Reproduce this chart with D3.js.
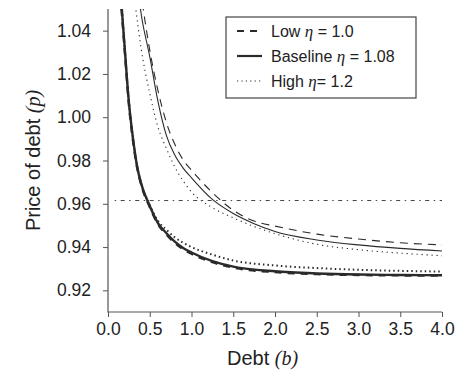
<!DOCTYPE html>
<html>
<head>
<meta charset="utf-8">
<script src="https://cdn.jsdelivr.net/npm/d3@7"></script>
<style>
  html, body { margin: 0; padding: 0; background: #fff; }
  svg { display: block; font-family: "Liberation Sans", Arial, sans-serif; }
  .math { font-family: "Liberation Serif", "DejaVu Serif", serif; font-style: italic; }
</style>
</head>
<body>
<svg id="chart"></svg>
<script>
/* ── data ──────────────────────────────────────────────────────── */

// thick curves (lower group)
const lowerB         = [0.15, 0.2, 0.25, 0.3, 0.35, 0.4, 0.5, 0.6, 0.7, 0.8, 0.9, 1.0, 1.25, 1.5, 2.0, 2.5, 3.0, 3.5, 4.0];
const lowerBaseline  = [1.058, 1.032, 1.007, 0.990, 0.977, 0.969, 0.959, 0.951, 0.9464, 0.9425, 0.9396, 0.9375, 0.9335, 0.931, 0.9288, 0.9278, 0.9273, 0.9271, 0.927];
const lowerLow       = [1.056, 1.031, 1.006, 0.989, 0.9765, 0.9685, 0.9585, 0.9505, 0.9458, 0.9419, 0.939, 0.9369, 0.933, 0.9305, 0.9284, 0.9275, 0.9271, 0.9269, 0.9268];
const lowerHigh      = [1.058, 1.032, 1.007, 0.990, 0.977, 0.969, 0.9595, 0.952, 0.948, 0.9445, 0.942, 0.940, 0.9365, 0.9338, 0.9315, 0.9303, 0.9295, 0.929, 0.9287];

// thin curves (upper group)
const upperBaseB     = [0.37, 0.4, 0.5, 0.6, 0.7, 0.8, 0.9, 1.0, 1.25, 1.5, 1.75, 2.0, 2.5, 3.0, 3.5, 4.0];
const upperBaseline  = [1.055, 1.047, 1.028, 1.007, 0.9915, 0.9825, 0.9765, 0.972, 0.962, 0.9555, 0.9508, 0.9472, 0.9433, 0.941, 0.9394, 0.9382];
const upperLowB      = [0.41, 0.5, 0.6, 0.7, 0.8, 0.9, 1.0, 1.25, 1.5, 1.75, 2.0, 2.5, 3.0, 3.5, 4.0];
const upperLow       = [1.053, 1.031, 1.012, 0.9975, 0.9875, 0.9803, 0.9755, 0.9652, 0.957, 0.952, 0.9497, 0.946, 0.9437, 0.942, 0.941];
const upperHighB     = [0.32, 0.4, 0.5, 0.6, 0.7, 0.8, 0.9, 1.0, 1.25, 1.5, 1.75, 2.0, 2.5, 3.0, 3.5, 4.0];
const upperHigh      = [1.054, 1.031, 1.011, 0.9953, 0.9855, 0.977, 0.9705, 0.9655, 0.9582, 0.9535, 0.9495, 0.9462, 0.9413, 0.9388, 0.9372, 0.936];

const refPrice  = 0.9615;          // horizontal dot-dash line
const xTicks    = [0, 0.5, 1, 1.5, 2, 2.5, 3, 3.5, 4];
const yTicks    = [0.92, 0.94, 0.96, 0.98, 1.00, 1.02, 1.04];

const legendItems = [
  { label: "Low ",      eq: " = 1.0",  dash: "7,6",     width: 2 },
  { label: "Baseline ", eq: " = 1.08", dash: null,      width: 2.2 },
  { label: "High ",     eq: "= 1.2",   dash: "1.2,3.2", width: 1 },
];

/* ── layout ────────────────────────────────────────────────────── */
const W = 470, H = 389;
const M = { top: 9, right: 28, bottom: 77, left: 108 };
const INK = "#2a2a2a", AXIS = "#555";

const svg = d3.select("#chart").attr("width", W).attr("height", H);

const x = d3.scaleLinear().domain([0, 4]).range([M.left, W - M.right]);
const y = d3.scaleLinear().domain([0.91, 1.05]).range([H - M.bottom, M.top]);

svg.append("defs").append("clipPath").attr("id", "plotClip")
  .append("rect")
    .attr("x", x(0)).attr("y", y(1.05))
    .attr("width", x(4) - x(0)).attr("height", y(0.91) - y(1.05));

/* ── axes ──────────────────────────────────────────────────────── */
const xAxis = svg.append("g")
  .attr("transform", `translate(0,${y(0.91)})`)
  .call(d3.axisBottom(x).tickValues(xTicks).tickFormat(d3.format(".1f")).tickSize(5).tickPadding(6));

const yAxis = svg.append("g")
  .attr("transform", `translate(${x(0)},0)`)
  .call(d3.axisLeft(y).tickValues(yTicks).tickFormat(d3.format(".2f")).tickSize(5).tickPadding(12));

[xAxis, yAxis].forEach(ax => {
  ax.select(".domain").remove();
  ax.selectAll(".tick line").attr("stroke", AXIS);
  ax.selectAll(".tick text")
    .attr("fill", "#222")
    .attr("font-size", 17.5)
    .attr("font-family", "'Liberation Sans', Arial, sans-serif");
});

// L-shaped frame
svg.append("path")
  .attr("d", `M${x(0)},${y(1.05)}V${y(0.91)}H${x(4)}`)
  .attr("fill", "none")
  .attr("stroke", AXIS)
  .attr("stroke-width", 1.2);

// axis titles
const xTitle = svg.append("text")
  .attr("x", 227).attr("y", 365)
  .attr("font-size", 20).attr("fill", "#222");
xTitle.append("tspan").text("Debt ");
xTitle.append("tspan").attr("class", "math").attr("font-style", "normal").text("(");
xTitle.append("tspan").attr("class", "math").text("b");
xTitle.append("tspan").attr("class", "math").attr("font-style", "normal").text(")");

const yTitle = svg.append("text")
  .attr("transform", `translate(40,${(y(0.91) + y(1.05)) / 2}) rotate(-90)`)
  .attr("text-anchor", "middle")
  .attr("font-size", 20).attr("fill", "#222");
yTitle.append("tspan").text("Price of debt ");
yTitle.append("tspan").attr("class", "math").attr("font-style", "normal").text("(");
yTitle.append("tspan").attr("class", "math").text("p");
yTitle.append("tspan").attr("class", "math").attr("font-style", "normal").text(")");

/* ── curves ────────────────────────────────────────────────────── */
const plot = svg.append("g").attr("clip-path", "url(#plotClip)");

// reference line
plot.append("line")
  .attr("x1", x(0.08)).attr("x2", x(4))
  .attr("y1", y(refPrice)).attr("y2", y(refPrice))
  .attr("stroke", "#444")
  .attr("stroke-width", 1)
  .attr("stroke-dasharray", "1.5,4.5,4,4.5");

const line = d3.line()
  .x(d => x(d[0]))
  .y(d => y(d[1]))
  .curve(d3.curveMonotoneX);

const zip = (bs, ps) => bs.map((b, i) => [b, ps[i]]);

const series = [
  { pts: zip(upperLowB,  upperLow),      dash: "8,6",     width: 1.1 },
  { pts: zip(upperBaseB, upperBaseline), dash: null,      width: 1.1 },
  { pts: zip(upperHighB, upperHigh),     dash: "1.2,3.8", width: 1.1 },
  { pts: zip(lowerB,     lowerHigh),     dash: "1.5,3",   width: 2 },
  { pts: zip(lowerB,     lowerLow),      dash: "7,6",     width: 2.4 },
  { pts: zip(lowerB,     lowerBaseline), dash: null,      width: 2.4 },
];

plot.selectAll("path.curve")
  .data(series)
  .join("path")
    .attr("class", "curve")
    .attr("d", d => line(d.pts))
    .attr("fill", "none")
    .attr("stroke", INK)
    .attr("stroke-width", d => d.width)
    .attr("stroke-dasharray", d => d.dash);

/* ── legend ────────────────────────────────────────────────────── */
const lg = svg.append("g");
lg.append("rect")
  .attr("x", 226).attr("y", 17)
  .attr("width", 190).attr("height", 81)
  .attr("fill", "#fff")
  .attr("stroke", "#444")
  .attr("stroke-width", 1.2);

const rows = lg.selectAll("g.row")
  .data(legendItems)
  .join("g")
    .attr("class", "row")
    .attr("transform", (d, i) => `translate(0,${31 + i * 25})`);

rows.append("line")
  .attr("x1", 237).attr("x2", 262)
  .attr("stroke", INK)
  .attr("stroke-width", d => d.width)
  .attr("stroke-dasharray", d => d.dash);

const lt = rows.append("text")
  .attr("x", 271).attr("y", 6)
  .attr("font-size", 16).attr("fill", "#222");
lt.append("tspan").text(d => d.label);
lt.append("tspan").attr("class", "math").attr("font-size", 17).text("η");
lt.append("tspan").text(d => d.eq);
</script>
</body>
</html>
